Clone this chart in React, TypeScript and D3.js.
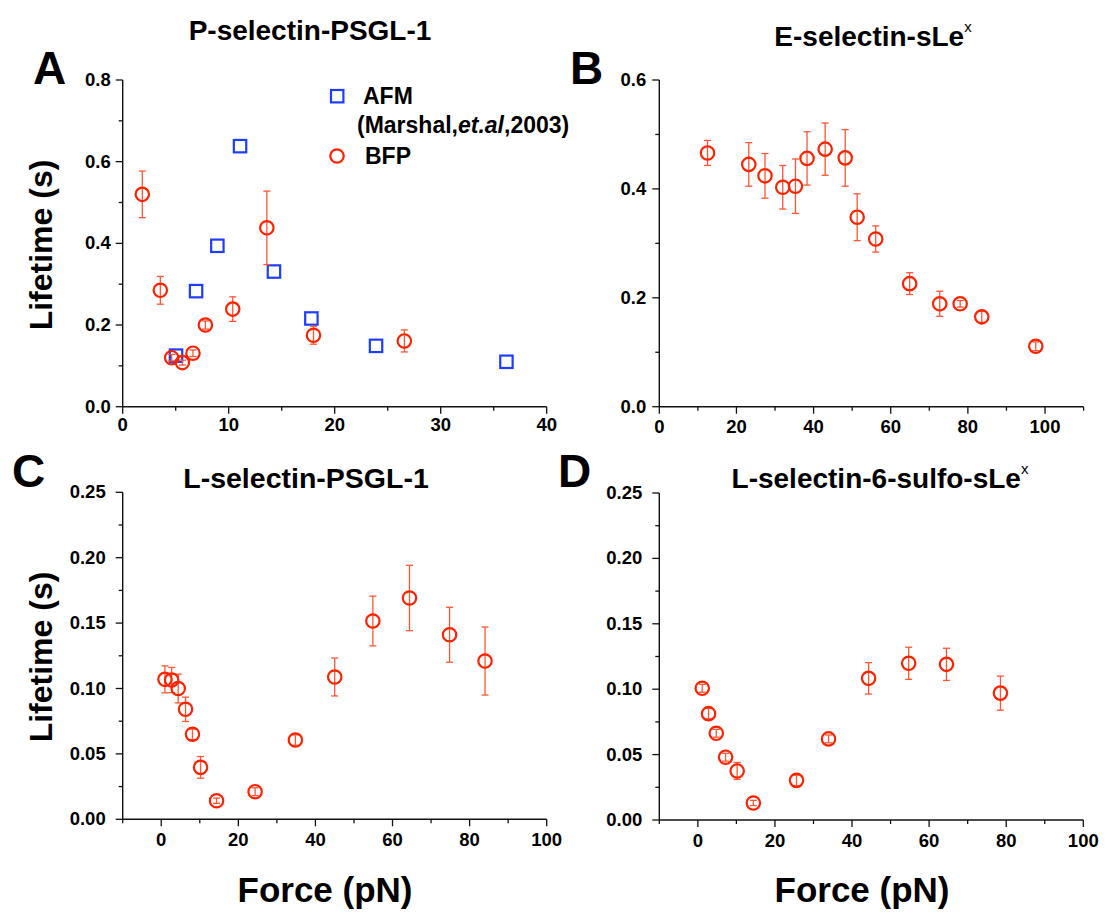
import React from 'react';
import * as d3 from 'd3';

// Panel A: P-selectin / PSGL-1
const bfpAForce = [1.85, 3.55, 4.62, 5.63, 6.63, 7.8, 10.38, 13.6, 18.0, 26.57];
const bfpALifetime = [0.52, 0.285, 0.12, 0.108, 0.131, 0.2, 0.239, 0.438, 0.175, 0.161];
const bfpAError = [0.057, 0.034, 0.008, 0.006, 0.008, 0.01, 0.03, 0.09, 0.022, 0.027];
const afmAForce = [5.03, 6.92, 8.93, 11.07, 14.27, 17.8, 23.9, 36.2];
const afmALifetime = [0.125, 0.283, 0.394, 0.638, 0.331, 0.216, 0.149, 0.11];

// Panel B: E-selectin / sLeX
const bForce = [12.5, 23.2, 27.4, 32.0, 35.3, 38.3, 43.0, 48.2, 51.3, 56.1, 64.9, 72.7, 78.0, 83.6, 97.6];
const bLifetime = [0.466, 0.445, 0.424, 0.403, 0.405, 0.456, 0.473, 0.457, 0.348, 0.308, 0.226, 0.189, 0.189, 0.165, 0.111];
const bError = [0.023, 0.04, 0.041, 0.04, 0.05, 0.049, 0.048, 0.052, 0.043, 0.024, 0.02, 0.023, 0.006, 0.01, 0.008];

// Panel C: L-selectin / PSGL-1
const cForce = [0.96, 2.7, 4.4, 6.3, 8.1, 10.2, 14.35, 24.35, 34.8, 45.0, 54.9, 64.4, 74.8, 84.0];
const cLifetime = [0.107, 0.1065, 0.1, 0.0841, 0.065, 0.0397, 0.0142, 0.0211, 0.0606, 0.1088, 0.1516, 0.1692, 0.1411, 0.121];
const cError = [0.0103, 0.0096, 0.011, 0.0093, 0.004, 0.0083, 0.002, 0.003, 0.004, 0.0145, 0.019, 0.025, 0.021, 0.026];

// Panel D: L-selectin / 6-sulfo-sLeX
const dForce = [1.14, 2.78, 4.78, 7.2, 10.2, 14.4, 25.6, 33.9, 44.3, 54.7, 64.5, 78.5];
const dLifetime = [0.1007, 0.0813, 0.0663, 0.048, 0.0375, 0.013, 0.0303, 0.062, 0.1083, 0.1198, 0.119, 0.097];
const dError = [0.003, 0.004, 0.003, 0.003, 0.0065, 0.002, 0.004, 0.003, 0.012, 0.0123, 0.0123, 0.013];

// Axis ticks
const xTicksA = [0, 10, 20, 30, 40];
const xMinorA = [5, 15, 25, 35];
const yTicksA = [0, 0.2, 0.4, 0.6, 0.8];
const yMinorA = [0.1, 0.3, 0.5, 0.7];
const xTicksB = [0, 20, 40, 60, 80, 100];
const xMinorB = [10, 30, 50, 70, 90, 110];
const yTicksB = [0, 0.2, 0.4, 0.6];
const yMinorB = [0.1, 0.3, 0.5];
const xTicksCD = [0, 20, 40, 60, 80, 100];
const xMinorCD = [-10, 10, 30, 50, 70, 90];
const yTicksCD = [0, 0.05, 0.1, 0.15, 0.2, 0.25];
const yMinorCD = [0.025, 0.075, 0.125, 0.175, 0.225];

const FONT = '"Liberation Sans", Arial, Helvetica, sans-serif';
const RED = '#ff2200';
const RED_BAR = '#ff5533';
const BLUE = '#1f3dff';

type Series = { x: number[]; y: number[]; err?: number[]; kind: 'circle' | 'square' };

type PanelProps = {
  xDomain: [number, number];
  yDomain: [number, number];
  xRange: [number, number];
  yRange: [number, number];
  xTicks: number[];
  xMinor: number[];
  yTicks: number[];
  yMinor: number[];
  yFmt: (v: number) => string;
  series: Series[];
  xLabelDy: number;
  yLabelGap: number;
};

function Panel(p: PanelProps) {
  const x = d3.scaleLinear().domain(p.xDomain).range(p.xRange);
  const y = d3.scaleLinear().domain(p.yDomain).range(p.yRange);
  const [x0, x1] = p.xRange;
  const [y0, y1] = p.yRange;
  const axisColor = '#111';
  return (
    <g>
      <line x1={x0} x2={x1} y1={y0} y2={y0} stroke={axisColor} strokeWidth={1.4} />
      <line x1={x0} x2={x0} y1={y0} y2={y1} stroke={axisColor} strokeWidth={1.4} />
      {p.xTicks.map((t) => (
        <g key={'xt' + t}>
          <line x1={x(t)} x2={x(t)} y1={y0} y2={y0 + 7} stroke={axisColor} strokeWidth={1.3} />
          <text x={x(t)} y={y0 + p.xLabelDy} textAnchor="middle" fontFamily={FONT} fontWeight="bold" fontSize={18.5}>
            {String(t)}
          </text>
        </g>
      ))}
      {p.xMinor.map((t) => (
        <line key={'xm' + t} x1={x(t)} x2={x(t)} y1={y0} y2={y0 + 4} stroke={axisColor} strokeWidth={1.3} />
      ))}
      {p.yTicks.map((t) => (
        <g key={'yt' + t}>
          <line x1={x0 - 7} x2={x0} y1={y(t)} y2={y(t)} stroke={axisColor} strokeWidth={1.3} />
          <text x={x0 - p.yLabelGap} y={y(t) + 6} textAnchor="end" fontFamily={FONT} fontWeight="bold" fontSize={18.5}>
            {p.yFmt(t)}
          </text>
        </g>
      ))}
      {p.yMinor.map((t) => (
        <line key={'ym' + t} x1={x0 - 4} x2={x0} y1={y(t)} y2={y(t)} stroke={axisColor} strokeWidth={1.3} />
      ))}
      {p.series.map((s, si) => (
        <g key={'s' + si}>
          {s.err &&
            s.x.map((xv, i) => {
              const e = s.err![i];
              const cx = x(xv);
              const top = y(s.y[i] + e);
              const bot = y(s.y[i] - e);
              return (
                <g key={'e' + i} stroke={RED_BAR} strokeWidth={1.3}>
                  <line x1={cx} x2={cx} y1={top} y2={bot} />
                  <line x1={cx - 3.5} x2={cx + 3.5} y1={top} y2={top} />
                  <line x1={cx - 3.5} x2={cx + 3.5} y1={bot} y2={bot} />
                </g>
              );
            })}
          {s.x.map((xv, i) =>
            s.kind === 'circle' ? (
              <circle key={'m' + i} cx={x(xv)} cy={y(s.y[i])} r={6.7} fill="none" stroke={RED} strokeWidth={2.2} />
            ) : (
              <rect key={'m' + i} x={x(xv) - 6.2} y={y(s.y[i]) - 6.2} width={12.4} height={12.4} fill="none" stroke={BLUE} strokeWidth={2.2} />
            )
          )}
        </g>
      ))}
    </g>
  );
}

export default function App() {
  const f1 = d3.format('.1f');
  const f2 = d3.format('.2f');
  const titleStyle = { fontFamily: FONT, fontWeight: 'bold' as const, fontSize: 28 };
  return (
    <svg width={1105} height={915} style={{ position: 'absolute', left: 0, top: 0, background: '#fff' }}>
      <rect width={1105} height={915} fill="#fff" />

      {/* Titles */}
      <text x={310} y={40} textAnchor="middle" {...titleStyle}>P-selectin-PSGL-1</text>
      <text x={873} y={46} textAnchor="middle" {...titleStyle}>
        E-selectin-sLe<tspan fontSize={15} dy={-14} fontWeight="normal">x</tspan>
      </text>
      <text x={306} y={488} textAnchor="middle" {...titleStyle} fontSize={28.5}>L-selectin-PSGL-1</text>
      <text x={880} y={488} textAnchor="middle" {...titleStyle}>
        L-selectin-6-sulfo-sLe<tspan fontSize={15} dy={-14} fontWeight="normal">x</tspan>
      </text>

      {/* Panel letters */}
      <text x={33} y={84} fontFamily={FONT} fontWeight="bold" fontSize={46}>A</text>
      <text x={570} y={84} fontFamily={FONT} fontWeight="bold" fontSize={46}>B</text>
      <text x={12} y={487} fontFamily={FONT} fontWeight="bold" fontSize={46}>C</text>
      <text x={558} y={487} fontFamily={FONT} fontWeight="bold" fontSize={46}>D</text>

      {/* Axis titles */}
      <text transform="translate(52,245) rotate(-90)" textAnchor="middle" fontFamily={FONT} fontWeight="bold" fontSize={32}>Lifetime (s)</text>
      <text transform="translate(52,657) rotate(-90)" textAnchor="middle" fontFamily={FONT} fontWeight="bold" fontSize={32}>Lifetime (s)</text>
      <text x={325} y={902} textAnchor="middle" fontFamily={FONT} fontWeight="bold" fontSize={35}>Force (pN)</text>
      <text x={862} y={902} textAnchor="middle" fontFamily={FONT} fontWeight="bold" fontSize={35}>Force (pN)</text>

      <Panel
        xDomain={[0, 40]} yDomain={[0, 0.8]} xRange={[122.7, 546.7]} yRange={[406.7, 80]}
        xTicks={xTicksA} xMinor={xMinorA} yTicks={yTicksA} yMinor={yMinorA} yFmt={f1}
        xLabelDy={24} yLabelGap={12}
        series={[
          { x: afmAForce, y: afmALifetime, kind: 'square' },
          { x: bfpAForce, y: bfpALifetime, err: bfpAError, kind: 'circle' },
        ]}
      />
      <Panel
        xDomain={[0, 110]} yDomain={[0, 0.6]} xRange={[659.3, 1083.6]} yRange={[406.7, 80]}
        xTicks={xTicksB} xMinor={xMinorB} yTicks={yTicksB} yMinor={yMinorB} yFmt={f1}
        xLabelDy={26} yLabelGap={13}
        series={[{ x: bForce, y: bLifetime, err: bError, kind: 'circle' }]}
      />
      <Panel
        xDomain={[-10, 100]} yDomain={[0, 0.25]} xRange={[122.7, 546.7]} yRange={[819.3, 492.3]}
        xTicks={xTicksCD} xMinor={xMinorCD} yTicks={yTicksCD} yMinor={yMinorCD} yFmt={f2}
        xLabelDy={27} yLabelGap={17}
        series={[{ x: cForce, y: cLifetime, err: cError, kind: 'circle' }]}
      />
      <Panel
        xDomain={[-10, 100]} yDomain={[0, 0.25]} xRange={[659.3, 1083.3]} yRange={[820, 493]}
        xTicks={xTicksCD} xMinor={xMinorCD} yTicks={yTicksCD} yMinor={yMinorCD} yFmt={f2}
        xLabelDy={27} yLabelGap={17}
        series={[{ x: dForce, y: dLifetime, err: dError, kind: 'circle' }]}
      />

      {/* Legend for panel A */}
      <rect x={331} y={90} width={12.4} height={12.4} fill="none" stroke={BLUE} strokeWidth={2.2} />
      <text x={363} y={104} fontFamily={FONT} fontWeight="bold" fontSize={23}>AFM</text>
      <text x={357} y={133} fontFamily={FONT} fontWeight="bold" fontSize={23}>
        (Marshal,<tspan fontStyle="italic">et.al</tspan>,2003)
      </text>
      <circle cx={337} cy={156} r={6.7} fill="none" stroke={RED} strokeWidth={2.2} />
      <text x={365} y={164} fontFamily={FONT} fontWeight="bold" fontSize={23}>BFP</text>
    </svg>
  );
}
